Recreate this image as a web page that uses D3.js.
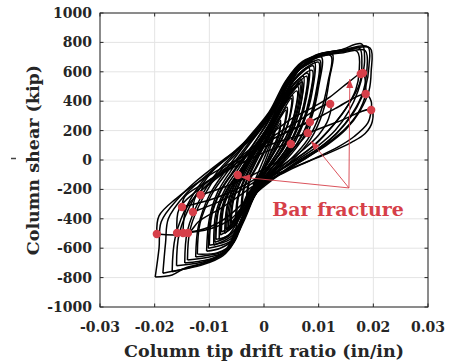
<!DOCTYPE html>
<html lang="en">
<head>
  <meta charset="UTF-8">
  <title>Column shear vs tip drift ratio</title>
  <script src="https://d3js.org/d3.v7.min.js"></script>
  <style>
    body { margin: 0; background: #fff; }
    svg { display: block; }
    text { font-family: "DejaVu Serif", serif; font-weight: bold; }
  </style>
</head>
<body>
  <script>
    // axis ticks
    const xTicks = [-0.03, -0.02, -0.01, 0, 0.01, 0.02, 0.03];
    const xTickLabels = ["-0.03", "-0.02", "-0.01", "0", "0.01", "0.02", "0.03"];
    const yTicks = [-1000, -800, -600, -400, -200, 0, 200, 400, 600, 800, 1000];
    const yTickLabels = ["-1000", "-800", "-600", "-400", "-200", "0", "200", "400", "600", "800", "1000"];

    // hysteresis cycles before fracture, [drift ratio, shear kip]
    const c1 = [[-0.0020,-170],[-0.0010,-80],[0.0000,10],[0.0010,100],[0.0020,180],[0.0012,90],[0.0000,-30],[-0.0010,-110],[-0.0020,-170]];
    const c2 = [[-0.0032,-260],[-0.0028,-150],[-0.0015,-50],[0.0000,60],[0.0015,170],[0.0030,270],[0.0026,170],[0.0012,50],[0.0000,-60],[-0.0015,-170],[-0.0032,-260]];
    const c2b = [[-0.0030,-240],[-0.0026,-140],[-0.0012,-40],[0.0003,70],[0.0017,170],[0.0030,250],[0.0026,150],[0.0012,40],[-0.0003,-70],[-0.0017,-170],[-0.0030,-240]];
    const c3 = [[-0.0042,-330],[-0.0038,-200],[-0.0025,-80],[-0.0010,30],[0.0010,160],[0.0025,270],[0.0042,360],[0.0038,240],[0.0025,110],[0.0010,0],[-0.0010,-120],[-0.0028,-240],[-0.0042,-330]];
    const c3b = [[-0.0040,-310],[-0.0036,-190],[-0.0022,-70],[-0.0006,50],[0.0012,170],[0.0027,270],[0.0040,340],[0.0036,220],[0.0022,90],[0.0006,-20],[-0.0012,-130],[-0.0026,-230],[-0.0040,-310]];
    const c4 = [[-0.0052,-400],[-0.0048,-250],[-0.0035,-120],[-0.0015,20],[0.0005,150],[0.0025,290],[0.0040,390],[0.0052,440],[0.0048,300],[0.0035,160],[0.0015,30],[-0.0005,-90],[-0.0025,-220],[-0.0040,-330],[-0.0052,-400]];
    const c4b = [[-0.0050,-380],[-0.0046,-240],[-0.0032,-110],[-0.0012,30],[0.0008,160],[0.0028,290],[0.0050,420],[0.0046,280],[0.0032,140],[0.0012,10],[-0.0008,-110],[-0.0028,-240],[-0.0050,-380]];
    const c5 = [[-0.0062,-450],[-0.0058,-290],[-0.0045,-150],[-0.0025,-10],[0.0000,150],[0.0020,290],[0.0040,420],[0.0062,500],[0.0058,340],[0.0045,190],[0.0025,50],[0.0005,-60],[-0.0015,-170],[-0.0035,-300],[-0.0050,-400],[-0.0062,-450]];
    const c5b = [[-0.0060,-430],[-0.0056,-280],[-0.0043,-150],[-0.0022,-10],[0.0002,140],[0.0022,280],[0.0042,400],[0.0060,470],[0.0056,320],[0.0043,180],[0.0022,40],[0.0002,-70],[-0.0018,-180],[-0.0038,-310],[-0.0060,-430]];
    const c5c = [[-0.0065,-470],[-0.0061,-300],[-0.0048,-150],[-0.0028,-15],[-0.0004,140],[0.0018,280],[0.0040,430],[0.0065,520],[0.0061,350],[0.0048,190],[0.0028,45],[0.0004,-75],[-0.0018,-190],[-0.0040,-330],[-0.0065,-470]];
    const c6 = [[-0.0072,-500],[-0.0068,-320],[-0.0055,-170],[-0.0035,-40],[-0.0010,110],[0.0015,270],[0.0035,410],[0.0055,520],[0.0072,570],[0.0068,390],[0.0055,220],[0.0035,70],[0.0010,-50],[-0.0015,-180],[-0.0035,-320],[-0.0055,-440],[-0.0072,-500]];
    const c6b = [[-0.0070,-470],[-0.0066,-300],[-0.0052,-160],[-0.0032,-30],[-0.0008,110],[0.0016,250],[0.0036,380],[0.0056,480],[0.0070,530],[0.0066,360],[0.0052,200],[0.0032,60],[0.0008,-60],[-0.0016,-190],[-0.0036,-330],[-0.0054,-420],[-0.0070,-470]];
    const c6c = [[-0.0068,-480],[-0.0064,-310],[-0.0050,-165],[-0.0030,-35],[-0.0006,110],[0.0018,260],[0.0038,390],[0.0068,550],[0.0064,370],[0.0050,205],[0.0030,55],[0.0006,-65],[-0.0018,-200],[-0.0038,-340],[-0.0068,-480]];
    const c7 = [[-0.0082,-540],[-0.0078,-340],[-0.0062,-180],[-0.0040,-50],[-0.0015,100],[0.0010,250],[0.0030,400],[0.0050,520],[0.0065,590],[0.0082,630],[0.0078,430],[0.0065,250],[0.0045,90],[0.0020,-30],[-0.0005,-140],[-0.0030,-290],[-0.0050,-430],[-0.0065,-510],[-0.0082,-540]];
    const c7b = [[-0.0080,-510],[-0.0075,-320],[-0.0058,-170],[-0.0036,-40],[-0.0012,100],[0.0012,240],[0.0032,380],[0.0052,500],[0.0080,590],[0.0075,400],[0.0062,230],[0.0042,80],[0.0018,-40],[-0.0008,-160],[-0.0032,-310],[-0.0055,-450],[-0.0080,-510]];
    const c7c = [[-0.0078,-490],[-0.0073,-310],[-0.0056,-165],[-0.0034,-35],[-0.0010,100],[0.0014,230],[0.0034,370],[0.0055,490],[0.0078,570],[0.0073,380],[0.0060,220],[0.0040,70],[0.0015,-50],[-0.0010,-170],[-0.0034,-320],[-0.0055,-440],[-0.0078,-490]];
    const c8 = [[-0.0092,-580],[-0.0088,-360],[-0.0070,-190],[-0.0045,-50],[-0.0020,100],[0.0005,250],[0.0030,420],[0.0050,550],[0.0070,630],[0.0092,670],[0.0088,460],[0.0075,280],[0.0055,110],[0.0030,-20],[0.0005,-120],[-0.0020,-260],[-0.0040,-420],[-0.0060,-520],[-0.0092,-580]];
    const c8b = [[-0.0090,-560],[-0.0085,-350],[-0.0068,-200],[-0.0042,-60],[-0.0016,90],[0.0008,230],[0.0033,400],[0.0055,540],[0.0090,640],[0.0085,440],[0.0072,260],[0.0050,100],[0.0025,-30],[0.0000,-140],[-0.0025,-290],[-0.0045,-440],[-0.0065,-520],[-0.0090,-560]];
    const c8c = [[-0.0088,-540],[-0.0083,-340],[-0.0066,-195],[-0.0040,-55],[-0.0014,85],[0.0010,225],[0.0035,390],[0.0058,530],[0.0088,610],[0.0083,420],[0.0070,250],[0.0048,90],[0.0022,-40],[-0.0004,-150],[-0.0028,-300],[-0.0048,-450],[-0.0068,-520],[-0.0088,-540]];
    const c9 = [[-0.0105,-620],[-0.0100,-400],[-0.0085,-220],[-0.0060,-70],[-0.0030,90],[0.0000,240],[0.0030,430],[0.0050,570],[0.0080,660],[0.0105,700],[0.0100,500],[0.0088,300],[0.0068,130],[0.0040,0],[0.0010,-110],[-0.0015,-230],[-0.0035,-400],[-0.0055,-540],[-0.0080,-600],[-0.0105,-620]];
    const c9b = [[-0.0102,-600],[-0.0097,-380],[-0.0080,-210],[-0.0055,-70],[-0.0025,80],[0.0005,240],[0.0032,420],[0.0055,580],[0.0080,650],[0.0102,680],[0.0097,470],[0.0085,280],[0.0062,120],[0.0035,-10],[0.0008,-120],[-0.0018,-250],[-0.0040,-430],[-0.0060,-550],[-0.0102,-600]];
    const c9c = [[-0.0100,-580],[-0.0095,-370],[-0.0078,-205],[-0.0052,-65],[-0.0022,75],[0.0008,230],[0.0035,410],[0.0058,560],[0.0082,640],[0.0100,665],[0.0095,460],[0.0082,270],[0.0060,110],[0.0032,-15],[0.0005,-130],[-0.0020,-260],[-0.0042,-440],[-0.0062,-540],[-0.0100,-580]];
    const c10 = [[-0.0125,-660],[-0.0120,-450],[-0.0100,-240],[-0.0070,-70],[-0.0040,80],[-0.0010,220],[0.0020,380],[0.0045,560],[0.0070,660],[0.0095,700],[0.0125,720],[0.0120,560],[0.0108,330],[0.0085,140],[0.0055,10],[0.0020,-100],[-0.0010,-200],[-0.0035,-380],[-0.0055,-560],[-0.0080,-630],[-0.0105,-650],[-0.0125,-660]];
    const c10b = [[-0.0122,-640],[-0.0117,-430],[-0.0095,-230],[-0.0065,-70],[-0.0035,80],[-0.0005,220],[0.0025,400],[0.0048,570],[0.0075,670],[0.0122,710],[0.0117,530],[0.0103,320],[0.0080,140],[0.0050,10],[0.0015,-100],[-0.0012,-210],[-0.0038,-400],[-0.0058,-570],[-0.0085,-630],[-0.0122,-640]];
    const c11 = [[-0.0145,-700],[-0.0140,-480],[-0.0115,-250],[-0.0085,-80],[-0.0050,60],[-0.0020,190],[0.0010,330],[0.0040,540],[0.0070,670],[0.0110,720],[0.0150,740],[0.0175,760],[0.0179,650],[0.0175,520],[0.0155,380],[0.0125,230],[0.0095,110],[0.0060,10],[0.0025,-80],[-0.0005,-170],[-0.0025,-280],[-0.0045,-470],[-0.0065,-610],[-0.0095,-670],[-0.0120,-690],[-0.0145,-700]];
    const c11b = [[-0.0140,-680],[-0.0135,-470],[-0.0110,-245],[-0.0080,-75],[-0.0045,65],[-0.0015,195],[0.0015,350],[0.0045,560],[0.0075,675],[0.0115,715],[0.0170,740],[0.0174,600],[0.0168,480],[0.0148,340],[0.0118,200],[0.0088,90],[0.0055,0],[0.0020,-90],[-0.0008,-180],[-0.0030,-300],[-0.0050,-490],[-0.0070,-620],[-0.0100,-660],[-0.0140,-680]];
    const c12 = [[-0.0168,-760],[-0.0162,-520],[-0.0135,-270],[-0.0100,-90],[-0.0060,40],[-0.0025,160],[0.0005,290],[0.0035,460],[0.0060,620],[0.0095,715],[0.0140,745],[0.0190,770],[0.0192,640],[0.0186,500],[0.0170,360],[0.0145,230],[0.0115,120],[0.0080,30],[0.0045,-60],[0.0010,-150],[-0.0020,-250],[-0.0045,-440],[-0.0065,-600],[-0.0090,-670],[-0.0125,-720],[-0.0168,-760]];
    const c12b = [[-0.0160,-720],[-0.0155,-500],[-0.0128,-260],[-0.0095,-80],[-0.0055,50],[-0.0020,170],[0.0010,310],[0.0040,490],[0.0065,630],[0.0100,700],[0.0145,730],[0.0185,745],[0.0188,600],[0.0181,460],[0.0162,320],[0.0135,190],[0.0100,80],[0.0065,0],[0.0030,-90],[0.0000,-170],[-0.0025,-270],[-0.0050,-470],[-0.0070,-610],[-0.0100,-680],[-0.0160,-720]];
    const c13 = [[-0.0199,-796],[-0.0192,-600],[-0.0188,-420],[-0.0157,-262],[-0.0126,-150],[-0.0075,0],[-0.0026,136],[0.0005,272],[0.0035,429],[0.0060,600],[0.0097,715],[0.0139,748],[0.0179,789],[0.0184,680],[0.0181,592],[0.0172,470],[0.0155,330],[0.0130,200],[0.0100,100],[0.0060,0],[0.0020,-90],[-0.0010,-150],[-0.0030,-230],[-0.0045,-380],[-0.0060,-560],[-0.0075,-640],[-0.0100,-690],[-0.0144,-735],[-0.0168,-782],[-0.0199,-796]];
    const c13b = [[-0.0185,-770],[-0.0180,-560],[-0.0175,-400],[-0.0145,-240],[-0.0110,-120],[-0.0065,20],[-0.0020,150],[0.0010,290],[0.0040,460],[0.0068,630],[0.0105,720],[0.0150,750],[0.0194,762],[0.0196,600],[0.0192,470],[0.0175,330],[0.0150,210],[0.0118,110],[0.0080,20],[0.0040,-70],[0.0005,-150],[-0.0025,-250],[-0.0040,-400],[-0.0055,-560],[-0.0075,-650],[-0.0110,-710],[-0.0150,-745],[-0.0185,-770]];

    // cycles after bar fracture
    const p1 = [[-0.0148,-497],[-0.0142,-330],[-0.0110,-190],[-0.0070,-60],[-0.0030,60],[0.0010,170],[0.0050,280],[0.0090,360],[0.0121,430],[0.0155,530],[0.0181,592],[0.0186,500],[0.0186,449],[0.0172,320],[0.0148,210],[0.0115,110],[0.0080,20],[0.0040,-70],[0.0000,-160],[-0.0030,-270],[-0.0060,-400],[-0.0100,-470],[-0.0148,-497]];
    const p2 = [[-0.0159,-497],[-0.0155,-330],[-0.0120,-200],[-0.0080,-80],[-0.0040,20],[0.0000,110],[0.0040,190],[0.0084,259],[0.0130,350],[0.0186,449],[0.0196,400],[0.0196,340],[0.0190,252],[0.0165,160],[0.0135,88],[0.0086,0],[0.0040,-80],[-0.0010,-180],[-0.0040,-300],[-0.0080,-420],[-0.0120,-480],[-0.0159,-497]];
    const p3 = [[-0.0196,-503],[-0.0192,-380],[-0.0160,-260],[-0.0120,-150],[-0.0080,-60],[-0.0040,20],[0.0000,90],[0.0040,140],[0.0080,184],[0.0135,260],[0.0196,340],[0.0198,260],[0.0185,180],[0.0160,120],[0.0120,50],[0.0080,-10],[0.0040,-70],[0.0000,-130],[-0.0040,-230],[-0.0080,-330],[-0.0120,-420],[-0.0139,-497],[-0.0196,-503]];
    const p4 = [[-0.0130,-354],[-0.0125,-250],[-0.0095,-150],[-0.0060,-50],[-0.0020,60],[0.0020,170],[0.0060,260],[0.0121,381],[0.0118,280],[0.0100,170],[0.0075,80],[0.0040,-20],[0.0000,-110],[-0.0040,-200],[-0.0080,-280],[-0.0130,-354]];
    const p5 = [[-0.0150,-320],[-0.0145,-250],[-0.0110,-160],[-0.0070,-70],[-0.0030,30],[0.0010,130],[0.0049,200],[0.0084,259],[0.0080,184],[0.0060,100],[0.0030,0],[0.0000,-90],[-0.0040,-180],[-0.0090,-260],[-0.0150,-320]];
    const p6 = [[-0.0116,-238],[-0.0110,-170],[-0.0080,-100],[-0.0040,-20],[0.0000,50],[0.0049,109],[0.0045,60],[0.0020,-20],[-0.0020,-100],[-0.0070,-180],[-0.0116,-238]];

    const cycles = [c1, c2, c2b, c3, c3b, c4, c4b, c5, c5b, c5c, c6, c6b, c6c, c7, c7b, c7c, c8, c8b, c8c,
                    c9, c9b, c9c, c10, c10b, c11, c11b, c12, c12b, c13, c13b, p1, p2, p3, p4, p5, p6];

    // bar fracture markers
    const fracDrift = [0.0177, 0.0181, 0.0186, 0.0196, 0.0121, 0.0084, 0.0080, 0.0049, -0.0048,
                       -0.0196, -0.0159, -0.0148, -0.0139, -0.0150, -0.0130, -0.0116];
    const fracShear = [585, 592, 449, 340, 381, 259, 184, 109, -102,
                       -503, -497, -497, -497, -320, -354, -238];

    // annotation: arrows from label corner to fracture points
    const noteFrom = [0.01554, -190];
    const noteTips = [[0.0157, 551], [0.0086, 129], [-0.0042, -116]];
    const noteText = "Bar fracture";
    const notePos = [0.0015, -380];

    const width = 456, height = 361;
    const red = "#d63f49";
    const axisCol = "#262626";

    const svg = d3.select("body").append("svg")
      .attr("width", width)
      .attr("height", height);

    const x = d3.scaleLinear().domain([-0.03, 0.03]).range([100, 428]);
    const y = d3.scaleLinear().domain([-1000, 1000]).range([307, 13]);

    // grid
    svg.append("g").selectAll("line").data(xTicks).enter().append("line")
      .attr("x1", d => x(d)).attr("x2", d => x(d))
      .attr("y1", y(-1000)).attr("y2", y(1000))
      .attr("stroke", "#e4e4e4").attr("stroke-width", 1);
    svg.append("g").selectAll("line").data(yTicks).enter().append("line")
      .attr("x1", x(-0.03)).attr("x2", x(0.03))
      .attr("y1", d => y(d)).attr("y2", d => y(d))
      .attr("stroke", "#e4e4e4").attr("stroke-width", 1);

    // hysteresis loops
    const line = d3.line()
      .x(d => x(d[0]))
      .y(d => y(d[1]))
      .curve(d3.curveCatmullRom.alpha(0.5));

    svg.append("g").selectAll("path").data(cycles).enter().append("path")
      .attr("d", line)
      .attr("fill", "none")
      .attr("stroke", "#000")
      .attr("stroke-width", 1.5)
      .attr("stroke-linejoin", "round");

    // annotation lines and arrowheads
    const ann = svg.append("g");
    noteTips.forEach(t => {
      const x0 = x(noteFrom[0]), y0 = y(noteFrom[1]);
      const x1 = x(t[0]), y1 = y(t[1]);
      ann.append("line")
        .attr("x1", x0).attr("y1", y0).attr("x2", x1).attr("y2", y1)
        .attr("stroke", red).attr("stroke-width", 0.9);
      const ang = Math.atan2(y1 - y0, x1 - x0) * 180 / Math.PI;
      ann.append("path")
        .attr("d", "M0,0 L-9,-3.5 L-9,3.5 Z")
        .attr("transform", `translate(${x1},${y1}) rotate(${ang})`)
        .attr("fill", red);
    });

    // fracture dots
    svg.append("g").selectAll("circle").data(fracDrift).enter().append("circle")
      .attr("cx", d => x(d))
      .attr("cy", (d, i) => y(fracShear[i]))
      .attr("r", 4.2)
      .attr("fill", red);

    svg.append("text")
      .attr("x", x(notePos[0])).attr("y", y(notePos[1]))
      .attr("fill", red)
      .attr("font-size", 19)
      .text(noteText);

    // frame and ticks
    svg.append("rect")
      .attr("x", x(-0.03)).attr("y", y(1000))
      .attr("width", x(0.03) - x(-0.03)).attr("height", y(-1000) - y(1000))
      .attr("fill", "none").attr("stroke", axisCol).attr("stroke-width", 1);

    const tk = svg.append("g").attr("stroke", axisCol).attr("stroke-width", 1);
    xTicks.forEach(d => {
      tk.append("line").attr("x1", x(d)).attr("x2", x(d)).attr("y1", y(-1000)).attr("y2", y(-1000) - 3.5);
      tk.append("line").attr("x1", x(d)).attr("x2", x(d)).attr("y1", y(1000)).attr("y2", y(1000) + 3.5);
    });
    yTicks.forEach(d => {
      tk.append("line").attr("x1", x(-0.03)).attr("x2", x(-0.03) + 3.5).attr("y1", y(d)).attr("y2", y(d));
      tk.append("line").attr("x1", x(0.03)).attr("x2", x(0.03) - 3.5).attr("y1", y(d)).attr("y2", y(d));
    });

    // tick labels
    svg.append("g").selectAll("text").data(xTicks).enter().append("text")
      .attr("x", d => x(d)).attr("y", 332)
      .attr("text-anchor", "middle")
      .attr("font-size", 14).attr("fill", axisCol)
      .text((d, i) => xTickLabels[i]);
    svg.append("g").selectAll("text").data(yTicks).enter().append("text")
      .attr("x", 92).attr("y", d => y(d)).attr("dy", "0.35em")
      .attr("text-anchor", "end")
      .attr("font-size", 14).attr("fill", axisCol)
      .text((d, i) => yTickLabels[i]);

    // axis titles
    svg.append("text")
      .attr("x", 264).attr("y", 357)
      .attr("text-anchor", "middle")
      .attr("font-size", 17.5).attr("fill", axisCol)
      .text("Column tip drift ratio (in/in)");
    svg.append("text")
      .attr("transform", "translate(39,160) rotate(-90)")
      .attr("text-anchor", "middle")
      .attr("font-size", 17.5).attr("fill", axisCol)
      .text("Column shear (kip)");

    // small stray mark left of the y title
    svg.append("line")
      .attr("x1", 11).attr("x2", 16).attr("y1", 158.5).attr("y2", 158.5)
      .attr("stroke", "#444").attr("stroke-width", 1.5);
  </script>
</body>
</html>
